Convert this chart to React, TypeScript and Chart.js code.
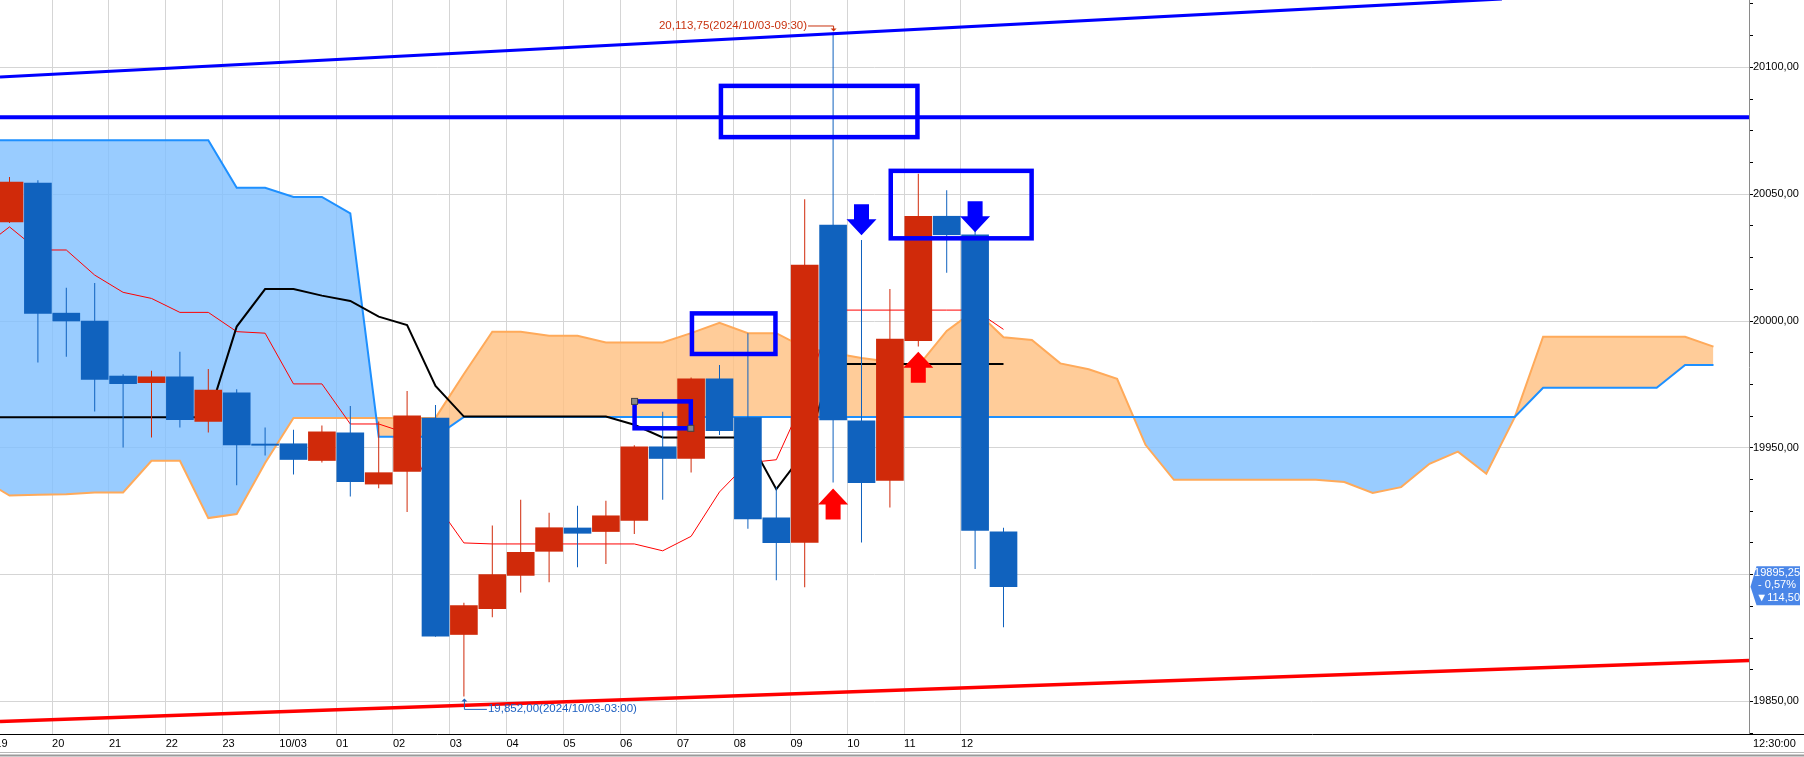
import React, { useEffect, useRef } from 'react';
import { Chart, registerables } from 'chart.js';

Chart.register(...registerables);

// ---------- scale ranges ----------
const X_MIN = -0.3345;
const X_MAX = 61.25;
const Y_MIN = 19837.17;
const Y_MAX = 20126.56;

// ---------- x axis (30-minute candles, hourly labels) ----------
const xTickValues = [-0.5, 1.5, 3.5, 5.5, 7.5, 9.5, 11.5, 13.5, 15.5, 17.5, 19.5, 21.5, 23.5, 25.5, 27.5, 29.5, 31.5, 33.5];
const xLabels = ['19', '20', '21', '22', '23', '10/03', '01', '02', '03', '04', '05', '06', '07', '08', '09', '10', '11', '12'];
const timeLabel = '12:30:00';

// ---------- y axis ----------
const yLabelValues = [20100, 20050, 20000, 19950, 19850];
const yLabels = ['20100,00', '20050,00', '20000,00', '19950,00', '19850,00'];
const yMinorStep = 12.5;
const yGridStep = 50;

// ---------- candles ----------
const openP = [20039.1, 20054.4, 20003.1, 20000.0, 19978.3, 19975.7, 19978.0, 19960.4, 19971.7, 19951.5, 19951.6, 19945.0, 19955.9, 19935.7, 19940.7, 19961.7, 19876.4, 19886.6, 19899.7, 19909.2, 19918.4, 19917.0, 19921.4, 19950.4, 19945.8, 19977.2, 19961.9, 19922.4, 19912.7, 20037.8, 19960.6, 19937.1, 19992.2, 20041.3, 20034.0, 19916.9];
const highP = [20056.8, 20055.5, 20013.1, 20015.0, 19979.0, 19980.4, 19987.9, 19981.1, 19973.1, 19958.0, 19957.1, 19958.8, 19966.5, 19960.4, 19972.4, 19966.9, 19888.9, 19919.4, 19929.5, 19924.4, 19927.2, 19929.1, 19951.0, 19964.2, 19977.7, 19982.7, 19995.2, 19934.6, 20048.0, 20113.75, 20031.9, 20012.6, 20058.1, 20051.6, 20036.0, 19918.5];
const lowP = [20038.6, 19983.6, 19985.9, 19964.3, 19950.1, 19954.1, 19958.0, 19956.0, 19935.2, 19947.0, 19939.5, 19944.2, 19930.8, 19934.1, 19924.7, 19875.5, 19852.0, 19883.2, 19893.0, 19897.0, 19902.9, 19904.2, 19916.0, 19929.5, 19940.3, 19955.1, 19918.1, 19897.8, 19895.0, 19936.3, 19912.7, 19926.5, 19989.9, 20019.0, 19902.2, 19879.3];
const closeP = [20054.8, 20003.0, 20000.0, 19977.0, 19975.3, 19978.0, 19961.1, 19972.8, 19951.1, 19951.0, 19945.4, 19956.3, 19936.7, 19940.2, 19962.6, 19875.7, 19887.8, 19900.0, 19908.8, 19918.5, 19916.3, 19923.2, 19950.4, 19945.8, 19977.2, 19956.8, 19922.0, 19912.6, 20022.0, 19961.0, 19936.3, 19992.9, 20041.3, 20034.0, 19917.4, 19895.25];

// ---------- ichimoku lines (first value is candle index -1) ----------
const LINE_START = -1;
const tenkan = [20028.5, 20037.1, 20028.0, 20028.0, 20018.1, 20011.3, 20008.9, 20003.4, 20003.4, 19995.8, 19995.2, 19975.2, 19975.2, 19959.4, 19959.4, 19955.7, 19928.3, 19912.5, 19912.1, 19912.1, 19912.1, 19912.1, 19912.1, 19912.1, 19909.4, 19915.1, 19932.6, 19944.1, 19945.3, 19969.9, 20004.3, 20004.3, 20004.3, 20004.3, 20004.3, 20004.3, 19996.7];
const kijun = [19962.1, 19962.1, 19962.1, 19962.1, 19962.1, 19962.1, 19962.1, 19962.1, 19962.1, 19997.8, 20012.6, 20012.6, 20010.0, 20007.9, 20001.7, 19998.4, 19974.4, 19962.3, 19962.3, 19962.3, 19962.3, 19962.3, 19962.3, 19959.1, 19954.1, 19954.1, 19954.1, 19954.1, 19933.7, 19948.4, 19983.0, 19983.0, 19983.0, 19983.0, 19983.0, 19983.0, 19983.0];
const spanA = [20071.3, 20071.3, 20071.3, 20071.3, 20071.3, 20071.3, 20071.3, 20071.3, 20071.3, 20052.5, 20052.5, 20048.9, 20048.9, 20042.4, 19954.4, 19954.4, 19954.4,
  19962.2, 19962.2, 19962.2, 19962.2, 19962.2, 19962.2, 19962.2, 19962.2, 19962.2, 19962.2, 19962.2, 19962.2, 19962.2, 19962.2, 19962.2, 19962.2, 19962.2, 19962.2, 19962.2,
  19962.2, 19962.2, 19962.2, 19962.2, 19962.2, 19962.2, 19962.2, 19962.2, 19962.2, 19962.2, 19962.2, 19962.2, 19962.2, 19962.2, 19962.2, 19962.2, 19962.2, 19962.2, 19962.2,
  19973.7, 19973.7, 19973.7, 19973.7, 19973.7, 19982.7, 19982.7];
const spanB = [19937.9, 19931.2, 19931.5, 19931.7, 19932.4, 19932.4, 19944.9, 19944.9, 19922.3, 19923.9, 19944.0,
  19961.8, 19961.8, 19961.8, 19961.8, 19961.8, 19961.8,
  19979.1, 19995.8, 19995.8, 19994.2, 19994.2, 19991.5, 19991.5, 19991.5, 19995.2, 19999.3, 19995.2, 19995.2, 19989.4, 19987.4, 19985.4, 19983.9, 19982.3, 19996.1, 20004.3, 19993.6, 19992.5, 19983.3, 19981.0, 19977.2, 19951.2,
  19937.4, 19937.4, 19937.4, 19937.4, 19937.4, 19937.4, 19936.5, 19932.2, 19934.5, 19943.7, 19948.5, 19939.8, 19962.0,
  19993.8, 19993.8, 19993.8, 19993.8, 19993.8, 19993.8, 19989.9];

// ---------- drawn objects (data units: candle index, price) ----------
const upperTrendX = [-0.3345, 52.55];
const upperTrendY = [20096.2, 20127.0];
const lowerTrendX = [-0.3345, 61.25];
const lowerTrendY = [19842.1, 19866.1];
const resistanceLevel = 20080.3;

const boxK1 = [25.05, 31.03, 24.03, 22.01];
const boxK2 = [31.97, 35.99, 26.97, 23.99];
const boxTop = [20092.7, 20059.2, 20003.0, 19968.3];
const boxBottom = [20072.5, 20032.6, 19987.0, 19957.7];
const selectedBox = 3;

const arrowK = [29, 32, 30, 34];
const arrowPrice = [19934.0, 19987.9, 20033.8, 20035.0];
const arrowDir = ['up', 'up', 'down', 'down'];

const highNoteK = 29;
const highNoteText = '20,113,75(2024/10/03-09:30)';
const lowNoteK = 16;
const lowNoteText = '19,852,00(2024/10/03-03:00)';

const lastPriceLines = ['19895,25', '- 0,57%', '▼114,50'];

// ---------- styles ----------
const UP = '#d02a0a';
const DOWN = '#1062be';
const FONT_FAMILY = '"Liberation Sans", "DejaVu Sans", sans-serif';

const yTickValues: number[] = [];
for (let v = 19837.5; v <= Y_MAX; v += yMinorStep) yTickValues.push(v);

const candleColors = openP.map((o, i) => (closeP[i] >= o ? UP : DOWN));

function drawArrow(ctx: any, cx: number, tipY: number, dir: string, color: string) {
  const s = dir === 'up' ? 1 : -1;
  ctx.fillStyle = color;
  ctx.beginPath();
  ctx.moveTo(cx, tipY);
  ctx.lineTo(cx + 15, tipY + s * 16);
  ctx.lineTo(cx + 7.5, tipY + s * 16);
  ctx.lineTo(cx + 7.5, tipY + s * 31);
  ctx.lineTo(cx - 7.5, tipY + s * 31);
  ctx.lineTo(cx - 7.5, tipY + s * 16);
  ctx.lineTo(cx - 15, tipY + s * 16);
  ctx.closePath();
  ctx.fill();
}

const overlayPlugin = {
  id: 'overlay',
  afterDatasetsDraw(chart: any) {
    const { ctx, chartArea: a } = chart;
    const xs = chart.scales.x;
    const ys = chart.scales.y;
    const px = (k: number) => xs.getPixelForValue(k);
    const py = (v: number) => ys.getPixelForValue(v);
    ctx.save();
    ctx.beginPath();
    ctx.rect(a.left, a.top, a.right - a.left, a.bottom - a.top);
    ctx.clip();

    // rectangles
    ctx.strokeStyle = '#0000ff';
    ctx.lineWidth = 4.5;
    for (let i = 0; i < boxK1.length; i++) {
      const x1 = px(boxK1[i]);
      const x2 = px(boxK2[i]);
      const y1 = py(boxTop[i]);
      const y2 = py(boxBottom[i]);
      ctx.strokeRect(x1, y1, x2 - x1, y2 - y1);
    }
    // selection handles
    {
      const i = selectedBox;
      const pts = [[px(boxK1[i]), py(boxTop[i])], [px(boxK2[i]), py(boxBottom[i])]];
      ctx.fillStyle = '#8a8a8a';
      ctx.strokeStyle = '#404040';
      ctx.lineWidth = 1;
      pts.forEach(([hx, hy]) => {
        ctx.fillRect(hx - 3, hy - 3, 6, 6);
        ctx.strokeRect(hx - 3, hy - 3, 6, 6);
      });
    }

    // arrows
    for (let i = 0; i < arrowK.length; i++) {
      drawArrow(ctx, px(arrowK[i]), py(arrowPrice[i]), arrowDir[i], arrowDir[i] === 'up' ? '#ff0000' : '#0000ff');
    }

    // high note
    {
      const hx = px(highNoteK);
      const hy = py(highP[highNoteK]);
      const ly = hy - 7;
      ctx.strokeStyle = '#c8320f';
      ctx.fillStyle = '#c8320f';
      ctx.lineWidth = 1;
      ctx.beginPath();
      ctx.moveTo(hx - 25, ly + 0.5);
      ctx.lineTo(hx + 0.5, ly + 0.5);
      ctx.lineTo(hx + 0.5, hy - 3);
      ctx.stroke();
      ctx.beginPath();
      ctx.moveTo(hx - 2.5, hy - 4);
      ctx.lineTo(hx + 3.5, hy - 4);
      ctx.lineTo(hx + 0.5, hy - 1);
      ctx.closePath();
      ctx.fill();
      ctx.font = '11.5px ' + FONT_FAMILY;
      ctx.textAlign = 'right';
      ctx.textBaseline = 'middle';
      ctx.fillText(highNoteText, hx - 26, ly);
    }
    // low note
    {
      const lx = px(lowNoteK);
      const lyv = py(lowP[lowNoteK]);
      const ty = lyv + 12.5;
      ctx.strokeStyle = '#1f60c0';
      ctx.fillStyle = '#1f60c0';
      ctx.lineWidth = 1;
      ctx.beginPath();
      ctx.moveTo(lx + 0.5, lyv + 4);
      ctx.lineTo(lx + 0.5, ty + 0.5);
      ctx.lineTo(lx + 23, ty + 0.5);
      ctx.stroke();
      ctx.beginPath();
      ctx.moveTo(lx - 2.5, lyv + 5);
      ctx.lineTo(lx + 3.5, lyv + 5);
      ctx.lineTo(lx + 0.5, lyv + 2);
      ctx.closePath();
      ctx.fill();
      ctx.font = '11.5px ' + FONT_FAMILY;
      ctx.textAlign = 'left';
      ctx.textBaseline = 'middle';
      ctx.fillText(lowNoteText, lx + 24, ty);
    }
    ctx.restore();
  },
  afterDraw(chart: any) {
    const { ctx, chartArea: a, width, height } = chart;
    const ys = chart.scales.y;
    ctx.save();
    // x axis line continues under the price axis
    ctx.strokeStyle = '#000';
    ctx.lineWidth = 1;
    ctx.beginPath();
    ctx.moveTo(a.right, a.bottom + 0.5);
    ctx.lineTo(width, a.bottom + 0.5);
    ctx.stroke();
    // time label
    ctx.fillStyle = '#000';
    ctx.font = '11px ' + FONT_FAMILY;
    ctx.textAlign = 'left';
    ctx.textBaseline = 'middle';
    ctx.fillText(timeLabel, a.right + 4, a.bottom + 10);
    // bottom frame
    ctx.strokeStyle = '#b8b8b8';
    ctx.beginPath();
    ctx.moveTo(0, height - 4.5);
    ctx.lineTo(width, height - 4.5);
    ctx.stroke();
    ctx.strokeStyle = '#9a9a9a';
    ctx.lineWidth = 2;
    ctx.beginPath();
    ctx.moveTo(0, height - 1.5);
    ctx.lineTo(width, height - 1.5);
    ctx.stroke();
    // last price box (notch points at the last close)
    const lp = ys.getPixelForValue(closeP[closeP.length - 1]);
    const top = lp - 20.5;
    const bottom = lp + 18.5;
    const left = a.right + 7.5;
    const right = width - 4;
    ctx.fillStyle = '#4a86e8';
    ctx.beginPath();
    ctx.moveTo(left, top);
    ctx.lineTo(right, top);
    ctx.lineTo(right, bottom);
    ctx.lineTo(left, bottom);
    ctx.lineTo(a.right + 1.5, lp);
    ctx.closePath();
    ctx.fill();
    ctx.fillStyle = '#ffffff';
    ctx.font = '11px ' + FONT_FAMILY;
    ctx.textAlign = 'right';
    ctx.textBaseline = 'middle';
    ctx.fillText(lastPriceLines[0], right, lp - 14);
    ctx.fillText(lastPriceLines[1], right - 4, lp - 1.5);
    ctx.fillText(lastPriceLines[2], right, lp + 11);
    ctx.restore();
  },
};

export default function App() {
  const ref = useRef<HTMLCanvasElement>(null);

  useEffect(() => {
    document.body.style.margin = '0';
    const canvas = ref.current;
    if (!canvas) return;

    const line = (vals: number[], color: string, width: number, order: number, extra: any = {}) => ({
      type: 'line',
      data: vals.map((v, i) => ({ x: i + LINE_START, y: v })),
      borderColor: color,
      borderWidth: width,
      pointRadius: 0,
      tension: 0,
      fill: false,
      order,
      ...extra,
    });

    const chart = new Chart(canvas, {
      type: 'bar',
      data: {
        datasets: [
          line(spanA, '#1e90ff', 2, 4),
          line(spanB, '#ffaa5a', 2, 5, {
            fill: { target: 0, above: 'rgba(255,191,128,0.8)', below: 'rgba(128,191,255,0.8)' },
          }),
          line(tenkan, '#ff0000', 1, 3),
          line(kijun, '#000000', 2, 2),
          {
            type: 'bar',
            data: lowP.map((l, i) => ({ x: i, y: [l, highP[i]] })),
            backgroundColor: candleColors,
            barThickness: 1,
            grouped: false,
            inflateAmount: 0,
            borderWidth: 0,
            order: 1,
          },
          {
            type: 'bar',
            data: openP.map((o, i) => ({ x: i, y: [Math.min(o, closeP[i]), Math.max(o, closeP[i])] })),
            backgroundColor: candleColors,
            barThickness: 27,
            grouped: false,
            borderWidth: 0,
            minBarLength: 1,
            order: 0,
          },
          {
            type: 'line',
            data: upperTrendX.map((x, i) => ({ x, y: upperTrendY[i] })),
            borderColor: '#0000ff',
            borderWidth: 3,
            pointRadius: 0,
            fill: false,
            order: -1,
          },
          {
            type: 'line',
            data: lowerTrendX.map((x, i) => ({ x, y: lowerTrendY[i] })),
            borderColor: '#ff0000',
            borderWidth: 3.5,
            pointRadius: 0,
            fill: false,
            order: -1,
          },
          {
            type: 'line',
            data: [{ x: X_MIN, y: resistanceLevel }, { x: X_MAX, y: resistanceLevel }],
            borderColor: '#0000ff',
            borderWidth: 4,
            pointRadius: 0,
            fill: false,
            order: -1,
          },
        ] as any,
      },
      options: {
        responsive: false,
        animation: false,
        events: [],
        layout: { padding: 0 },
        plugins: {
          legend: { display: false },
          tooltip: { enabled: false },
          filler: { drawTime: 'beforeDatasetsDraw' },
        } as any,
        scales: {
          x: {
            type: 'linear',
            min: X_MIN,
            max: X_MAX,
            offset: false,
            afterBuildTicks: (s: any) => {
              s.ticks = xTickValues.map((v) => ({ value: v }));
            },
            afterFit: (s: any) => {
              s.height = 23;
              s.paddingLeft = 0;
              s.paddingRight = 0;
            },
            ticks: {
              autoSkip: false,
              maxRotation: 0,
              minRotation: 0,
              align: 'start',
              padding: 3,
              color: '#000',
              font: { family: FONT_FAMILY, size: 11 },
              callback: (_v: any, i: number) => xLabels[i] ?? '',
            },
            grid: { offset: false, color: '#d5d5d5', lineWidth: 1, drawTicks: false },
            border: { display: true, color: '#000', width: 1 },
          },
          y: {
            type: 'linear',
            position: 'right',
            min: Y_MIN,
            max: Y_MAX,
            beginAtZero: false,
            afterBuildTicks: (s: any) => {
              s.ticks = yTickValues.map((v) => ({ value: v }));
            },
            afterFit: (s: any) => {
              s.width = 55;
              s.paddingTop = 0;
              s.paddingBottom = 0;
            },
            ticks: {
              autoSkip: false,
              padding: 0,
              color: '#000',
              font: { family: FONT_FAMILY, size: 11 },
              callback: (v: any) => {
                const i = yLabelValues.indexOf(Number(v));
                return i >= 0 ? yLabels[i] : '';
              },
            },
            grid: {
              color: (c: any) => (c.tick && Math.abs(c.tick.value % yGridStep) < 1e-6 ? '#d5d5d5' : 'rgba(0,0,0,0)'),
              tickColor: '#000',
              tickLength: 4,
              drawTicks: true,
            },
            border: { display: true, color: '#8a8a8a', width: 1 },
          },
        } as any,
      },
      plugins: [overlayPlugin],
    } as any);

    return () => chart.destroy();
  }, []);

  return (
    <div style={{ position: 'fixed', left: 0, top: 0, width: 1804, height: 757, background: '#ffffff' }}>
      <canvas ref={ref} width={1804} height={757} style={{ display: 'block', width: 1804, height: 757 }} />
    </div>
  );
}
